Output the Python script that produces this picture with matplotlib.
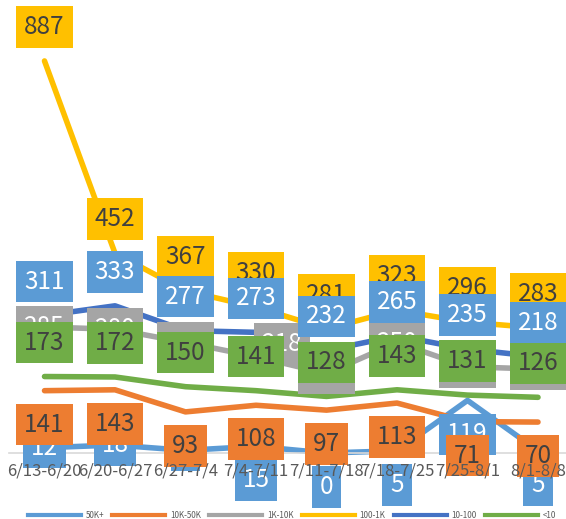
import matplotlib
matplotlib.use("Agg")
import matplotlib.pyplot as plt
from matplotlib.lines import Line2D

plt.rcParams['font.family'] = ['Noto Sans CJK JP', 'DejaVu Sans']

# data
weeks = ["6/13-6/20", "6/20-6/27", "6/27-7/4", "7/4-7/11",
         "7/11-7/18", "7/18-7/25", "7/25-8/1", "8/1-8/8"]
over_50k = [12, 18, 6, 15, 0, 5, 119, 5]
k10_50k = [141, 143, 93, 108, 97, 113, 71, 70]
k1_10k = [285, 280, 250, 218, 180, 250, 195, 190]
h100_1k = [887, 452, 367, 330, 281, 323, 296, 283]
t10_100 = [311, 333, 277, 273, 232, 265, 235, 218]
under_10 = [173, 172, 150, 141, 128, 143, 131, 126]

names = ["50K+", "10K-50K", "1K-10K", "100-1K", "10-100", "<10"]
series = [over_50k, k10_50k, k1_10k, h100_1k, t10_100, under_10]

# styling
line_colors = ["#5B9BD5", "#ED7D31", "#A5A5A5", "#FFC000", "#4472C4", "#70AD47"]
box_colors = ["#5B9BD5", "#ED7D31", "#A5A5A5", "#FFC000", "#5B9BD5", "#70AD47"]
text_colors = ["white", "#404040", "white", "#404040", "white", "#404040"]
label_pos = ["below", "below", "center", "above", "above", "above"]
# a few labels sit elsewhere in the original
first_50k_centered = 3
nudges = {(2, 3): (26, 13)}

fig = plt.figure(figsize=(5.66, 5.19), dpi=100)
ax = fig.add_axes([9.25 / 566, 66 / 519, 564 / 566, 442 / 519])
x = list(range(len(weeks)))

for k, vals in enumerate(series):
    ax.plot(x, vals, color=line_colors[k], lw=4, solid_capstyle="round",
            solid_joinstyle="round", zorder=2, clip_on=False)

off = 34
for k, vals in enumerate(series):
    for i, v in enumerate(vals):
        pos = label_pos[k]
        if k == 0 and i < first_50k_centered:
            pos = "center"
        dy = {"above": off, "below": -off, "center": 0}[pos]
        dx = 0
        if (k, i) in nudges:
            dx, ny = nudges[(k, i)]
            dy += ny
        ax.annotate(str(v), xy=(i, v), xytext=(dx, dy), textcoords="offset pixels",
                    ha="center", va="center", fontsize=17.5, color=text_colors[k],
                    zorder=10 + k, annotation_clip=False,
                    bbox=dict(boxstyle="square,pad=0.32", fc=box_colors[k], ec="none"))

ax.set_xlim(-0.5, 7.5)
ax.set_ylim(0, 1000)
ax.set_xticks(x)
ax.set_xticklabels(weeks)
ax.tick_params(axis="x", length=0, pad=7, labelsize=12, colors="#595959")
ax.xaxis.set_zorder(30)  # week labels show on top of the data labels
ax.set_yticks([])
for s in ["top", "left", "right"]:
    ax.spines[s].set_visible(False)
ax.spines["bottom"].set_color("#D9D9D9")
ax.spines["bottom"].set_linewidth(1.2)
ax.patch.set_alpha(0)

handles = [Line2D([], [], color=c, lw=3) for c in line_colors]
fig.legend(handles, names, loc="center", bbox_to_anchor=(292 / 566, 1 - 515 / 519),
           ncol=6, frameon=False, fontsize=5.8, handlelength=6.6,
           handletextpad=0.6, columnspacing=1.0, labelcolor="#595959")

fig.savefig("out.png", dpi=100)
